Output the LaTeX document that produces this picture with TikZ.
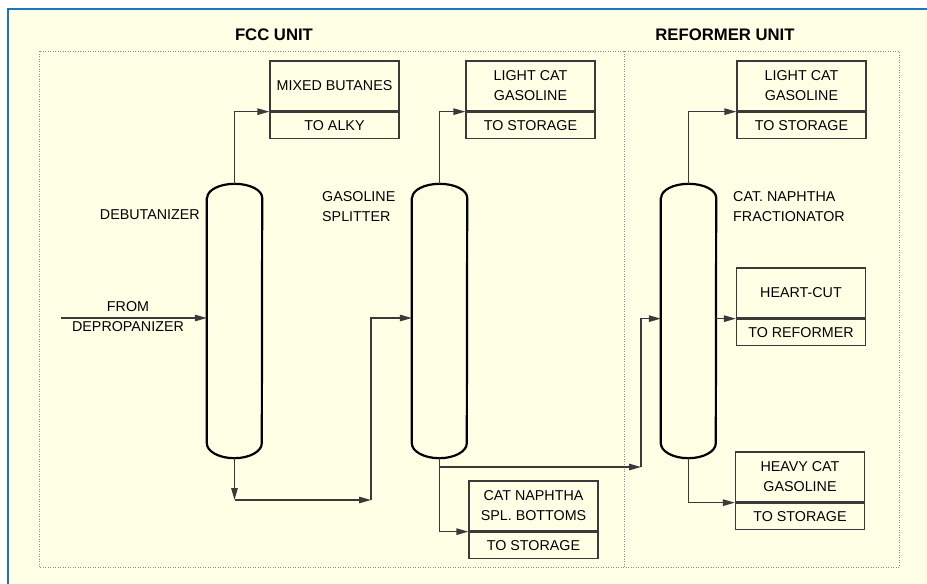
\documentclass[tikz,border=0pt]{standalone}
\usepackage{fontspec}
\setmainfont{Liberation Sans}
\usetikzlibrary{arrows.meta}
\definecolor{cream}{HTML}{FFFFE6}
\definecolor{frameblue}{HTML}{1B75BC}
\definecolor{linegray}{HTML}{3A3A3A}
\definecolor{dotgray}{HTML}{8A8A8A}
\newcommand\drawvessel[1]{%
  \draw[vessel] ([yshift=-14pt]#1.north west) -- ([yshift=15pt]#1.south west)
    arc[start angle=180,end angle=360,x radius=27.5pt,y radius=15pt]
    -- ([yshift=-14pt]#1.north east)
    arc[start angle=0,end angle=180,x radius=27.5pt,y radius=14pt] -- cycle;}
\begin{document}
\begin{tikzpicture}[x=1pt,y=-1pt,
  txt/.style={font=\fontsize{14.3}{20}\selectfont,align=center,inner sep=0pt},
  title/.style={font=\fontsize{16.7}{20}\selectfont\bfseries,inner sep=0pt},
  toppart/.style={draw=linegray,line width=1.3pt,minimum width=129pt,minimum height=50pt,inner sep=0pt,txt},
  botpart/.style={draw=linegray,line width=1.3pt,minimum width=129pt,minimum height=26pt,inner sep=0pt,txt,anchor=north},
  colbox/.style={minimum width=55pt,minimum height=274pt,inner sep=0pt},
  vessel/.style={draw=black,line width=2.2pt,line join=round},
  flow/.style={draw=linegray,line width=1.3pt,-{Triangle[length=12pt,width=6.5pt]}},
  dotframe/.style={draw=dotgray,line width=0.9pt,dash pattern=on 0.9pt off 1.6pt}]
\useasboundingbox (0,0) rectangle (927,584);
\fill[white] (0,0) rectangle (927,584);
\fill[cream] (8,9) rectangle (927,584);
\draw[frameblue,line width=2.8pt] (8,584) -- (8,9) -- (927,9);
% dotted unit frames
\draw[dotframe] (39,51) rectangle (899,567);
\draw[dotframe] (624,51) -- (624,567);
% titles
\node[title] (tfcc) at (274,35) {FCC UNIT};
\node[title] (tref) at (725,35) {REFORMER UNIT};
% columns
\node[colbox] (deb) at (234.5,321) {};
\node[colbox] (spl) at (439.5,321) {};
\node[colbox] (frac) at (688.5,321) {};
\drawvessel{deb}
\drawvessel{spl}
\drawvessel{frac}
% column labels
\node[txt,anchor=east] (ldeb) at (200,215) {DEBUTANIZER};
\node[txt,anchor=west,align=left] (lspl) at (322,207) {GASOLINE\\SPLITTER};
\node[txt,anchor=west,align=left] (lfrac) at (733,207) {CAT. NAPHTHA\\FRACTIONATOR};
\node[txt] (lfeed) at (128,317) {FROM\\DEPROPANIZER};
% product boxes
\node[toppart] (mbT) at (334.5,86) {MIXED BUTANES};
\node[botpart] (mbB) at (mbT.south) {TO ALKY};
\node[toppart] (lgaT) at (530.5,86) {LIGHT CAT\\GASOLINE};
\node[botpart] (lgaB) at (lgaT.south) {TO STORAGE};
\node[toppart] (lgbT) at (801.5,86) {LIGHT CAT\\GASOLINE};
\node[botpart] (lgbB) at (lgbT.south) {TO STORAGE};
\node[toppart] (hcT) at (801,293) {HEART-CUT};
\node[botpart] (hcB) at (hcT.south) {TO REFORMER};
\node[toppart] (hvT) at (800,477) {HEAVY CAT\\GASOLINE};
\node[botpart] (hvB) at (hvT.south) {TO STORAGE};
\node[toppart] (cnT) at (533.5,506) {CAT NAPHTHA\\SPL. BOTTOMS};
\node[botpart] (cnB) at (cnT.south) {TO STORAGE};
% helper points
\coordinate (feed) at (61,318);
\coordinate (dbot) at (234.5,500);
\coordinate (dturn) at (371,500);
\coordinate (sj) at (439.5,467);
\coordinate (fturn) at (641,467);
% connectors
\draw[flow] (feed) -- (deb.west |- feed);
\draw[flow] (deb.north) |- (mbT.south west);
\draw[flow] (spl.north) |- (lgaT.south west);
\draw[flow] (frac.north) |- (lgbT.south west);
\draw[flow] (deb.south) -- (dbot);
\draw[flow] (dbot) -- (dturn);
\draw[flow] (dturn) |- (spl.west |- feed);
\draw[flow] (spl.south) |- (cnT.south west);
\draw[flow] (sj) -- (fturn);
\draw[flow] (fturn) |- (frac.west |- hcT.south west);
\draw[flow] (frac.east |- hcT.south west) -- (hcT.south west);
\draw[flow] (frac.south) |- (hvT.south west);
\end{tikzpicture}
\end{document}
